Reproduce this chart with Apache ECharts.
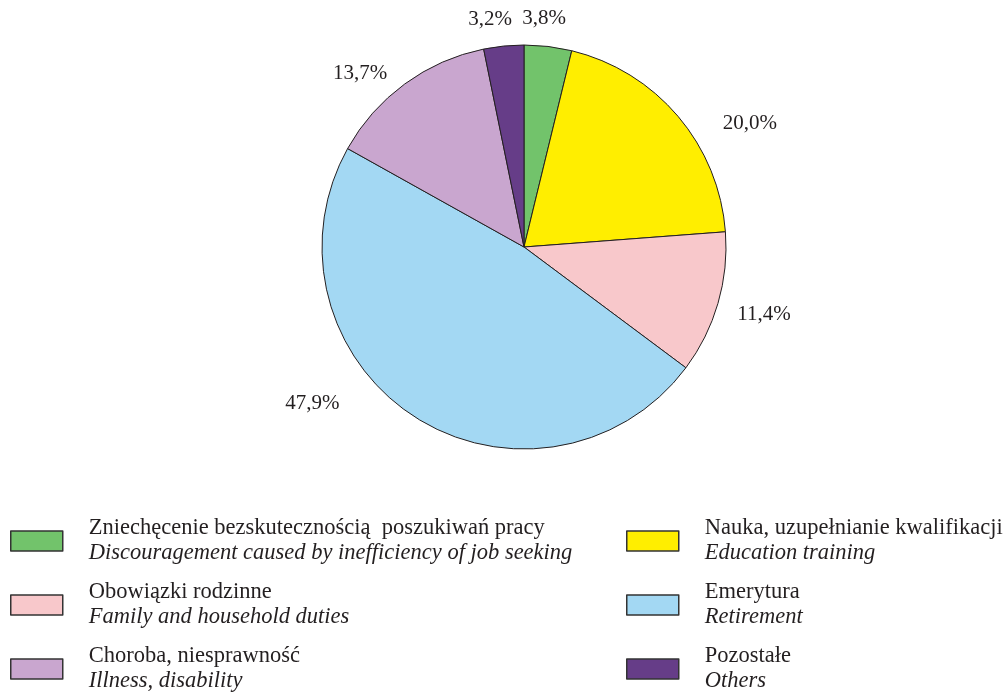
<!DOCTYPE html>
<html><head><meta charset="utf-8">
<script src="https://cdn.jsdelivr.net/npm/echarts@6/dist/echarts.min.js"></script>
<style>html,body{margin:0;padding:0;background:#fff}#c{width:1006px;height:692px}</style>
</head><body><div id="c"></div>
<script>
const namesPL = ['Zniechęcenie bezskutecznością  poszukiwań pracy','Nauka, uzupełnianie kwalifikacji','Obowiązki rodzinne','Emerytura','Choroba, niesprawność','Pozostałe'];
const namesEN = ['Discouragement caused by inefficiency of job seeking','Education training','Family and household duties','Retirement','Illness, disability','Others'];
const values = [3.8, 20.0, 11.4, 47.9, 13.7, 3.2];
const colors = ['#72C36B','#FFEE00','#F8C8CB','#A3D8F3','#C9A6CF','#663D88'];

// label nudges (styling only)
const labelNudge = [[-33,-10],[26,19],[-3,6],[-60,-28],[-2,4],[15,-9]];
const rowTops = [512, 576, 640];
const colLefts = [5, 621];

const data = namesPL.map((n,i)=>({name:n, value:values[i], itemStyle:{color:colors[i]}, label:{offset:labelNudge[i]}}));
const en = {}; namesPL.forEach((n,i)=>en[n]=namesEN[i]);
const font = 'Liberation Serif, Times New Roman, serif';
function legendCfg(name, left, top){
  return {
    orient:'vertical', left:left, top:top, itemWidth:52, itemHeight:20,
    icon:'rect', selectedMode:false,
    itemStyle:{borderColor:'#333', borderWidth:1.5},
    data:[name],
    formatter:n=>'{a|'+n+'}\n{b|'+en[n]+'}',
    textStyle:{padding:[0,0,0,21], rich:{
      a:{fontFamily:font,fontSize:22.5,color:'#231f20',lineHeight:25},
      b:{fontFamily:font,fontSize:22.5,fontStyle:'italic',color:'#231f20',lineHeight:25}
    }}
  };
}
const legends = namesPL.map((n,i)=>legendCfg(n, colLefts[i%2], rowTops[Math.floor(i/2)]));
const chart = echarts.init(document.getElementById('c'));
chart.setOption({
  animation:false,
  legend:legends,
  series:[{
    type:'pie', center:[524,247], radius:[0,202], startAngle:90, clockwise:true,
    data:data,
    itemStyle:{borderColor:'#231f20', borderWidth:1},
    label:{show:true, position:'outside', formatter:p=>p.value.toFixed(1).replace('.',',')+'%',
      fontFamily:font, fontSize:21, color:'#231f20'},
    labelLine:{show:false, length:18, length2:0}
  }]
});
</script></body></html>
